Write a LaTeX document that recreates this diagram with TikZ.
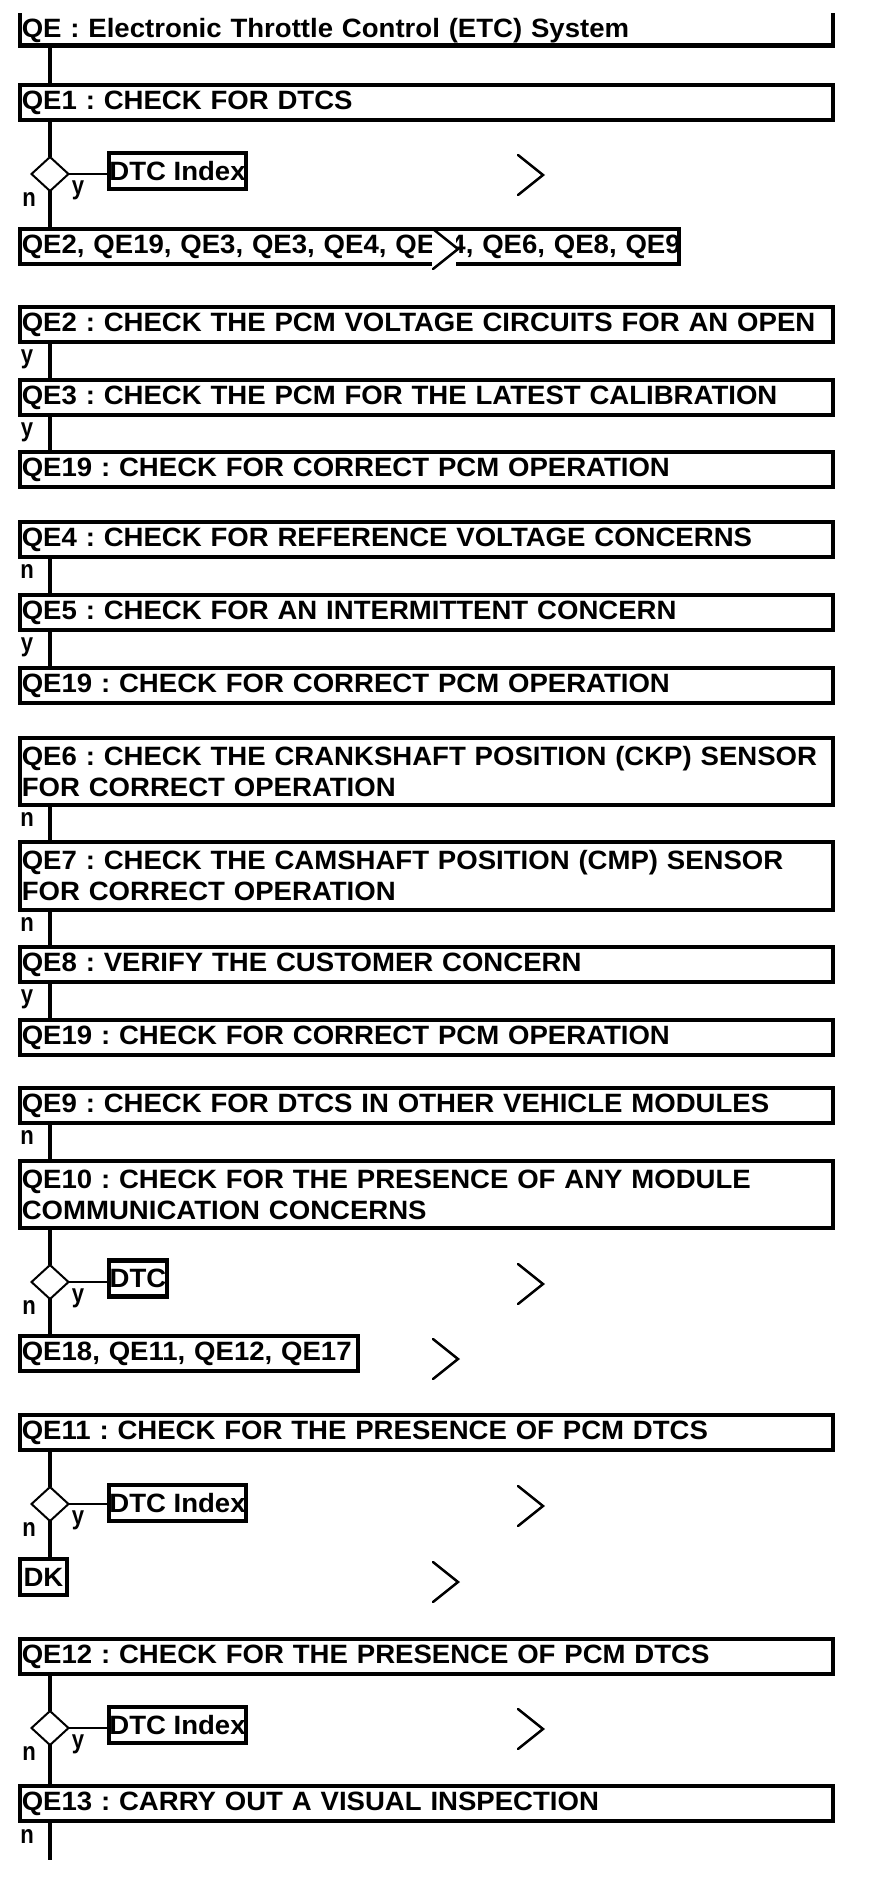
\documentclass[tikz,border=0pt]{standalone}
\usepackage{fontspec}
\setmainfont{Liberation Sans}[FakeStretch=1.04]
\newfontfamily\labfont{Liberation Sans}[FakeStretch=0.85]
\frenchspacing
\usetikzlibrary{shapes.geometric}
\begin{document}
\frenchspacing
\begin{tikzpicture}[x=1pt,y=-1pt,
  every node/.style={outer sep=0pt},
  bord/.style={line width=4.5pt},
  stepbox/.style={draw, bord, anchor=north west, inner xsep=1.8pt, inner ysep=0pt,
    minimum height=35pt, text width=#1, align=left,
    font=\bfseries\fontsize{26.5}{31}\selectfont},
  stepbox/.default=809.4pt,
  tag/.style={draw, bord, inner sep=0pt, minimum height=36pt,
    font=\bfseries\fontsize{26.5}{31}\selectfont},
  dia/.style={draw, diamond, line width=2pt, inner sep=0pt, minimum width=37pt, minimum height=34pt},
  trunk/.style={line width=4pt},
  link/.style={line width=2.5pt},
  lab/.style={font=\labfont\bfseries\fontsize{26}{26}\selectfont, inner sep=0pt, anchor=mid},
  chevline/.style={line width=2.5pt, line cap=round},
  pics/chevron/.style={code={\draw[chevline] (-25,-20) -- (0,0) -- (-25,20);}},
]
\useasboundingbox (0,0) rectangle (880,1882);
\coordinate (spine) at (50,0);

% ---- title
\node[stepbox, draw=none, minimum height=29.7pt] (title) at (20,16) {QE : Electronic Throttle Control (ETC) System};
\draw[bord] ([yshift=3pt]title.north west) -- (title.south west) -- (title.south east) -- ([yshift=3pt]title.north east);

% ---- QE1
\node[stepbox] (qe1) at (20,85) {QE1 : CHECK FOR DTCS};
\node[dia] (d1) at (50,174) {};
\node[tag, minimum width=137pt] (i1) at (177.5,171) {DTC Index};
\node[stepbox=655.4pt] (l1) at (20,229) {\mbox{QE2, QE19, QE3, QE3, QE4, QE14, QE6, QE8, QE9}};
\draw[trunk] (title.south -| spine) -- (qe1.north -| spine);
\draw[trunk] (qe1.south -| spine) -- (d1.north);
\draw[link] (d1.east) -- (d1.east -| i1.west);
\draw[trunk] (d1.south) -- (l1.north -| spine);
\node[lab] (y1) at ([shift={(28,18)}]d1.center) {y};
\node[lab] (n1) at ([shift={(-21,30)}]d1.center) {n};
\pic at (543,175) {chevron};
\fill[white] (432,231.5) rectangle (455.5,272);
\pic at (458,249) {chevron};

% ---- QE2 / QE3 / QE19
\node[stepbox] (qe2) at (20,307) {\mbox{QE2 : CHECK THE PCM VOLTAGE CIRCUITS FOR AN OPEN}};
\node[stepbox] (qe3) at (20,380) {\mbox{QE3 : CHECK THE PCM FOR THE LATEST CALIBRATION}};
\node[stepbox] (qe19a) at (20,452) {QE19 : CHECK FOR CORRECT PCM OPERATION};
\draw[trunk] (qe2.south -| spine) -- (qe3.north -| spine) node[midway, lab, xshift=-23pt] (y2) {y};
\draw[trunk] (qe3.south -| spine) -- (qe19a.north -| spine) node[midway, lab, xshift=-23pt] (y3) {y};

% ---- QE4 / QE5 / QE19
\node[stepbox] (qe4) at (20,522) {QE4 : CHECK FOR REFERENCE VOLTAGE CONCERNS};
\node[stepbox] (qe5) at (20,595) {QE5 : CHECK FOR AN INTERMITTENT CONCERN};
\node[stepbox] (qe19b) at (20,668) {QE19 : CHECK FOR CORRECT PCM OPERATION};
\draw[trunk] (qe4.south -| spine) -- (qe5.north -| spine) node[midway, lab, xshift=-23pt] (n4) {n};
\draw[trunk] (qe5.south -| spine) -- (qe19b.north -| spine) node[midway, lab, xshift=-23pt] (y5) {y};

% ---- QE6 / QE7 / QE8 / QE19
\node[stepbox, minimum height=67pt] (qe6) at (20,738) {\mbox{QE6 : CHECK THE CRANKSHAFT POSITION (CKP) SENSOR}\\\mbox{FOR CORRECT OPERATION}};
\node[stepbox, minimum height=68pt] (qe7) at (20,842) {\mbox{QE7 : CHECK THE CAMSHAFT POSITION (CMP) SENSOR}\\\mbox{FOR CORRECT OPERATION}};
\node[stepbox] (qe8) at (20,947) {QE8 : VERIFY THE CUSTOMER CONCERN};
\node[stepbox] (qe19c) at (20,1020) {QE19 : CHECK FOR CORRECT PCM OPERATION};
\draw[trunk] (qe6.south -| spine) -- (qe7.north -| spine) node[midway, lab, xshift=-23pt] (n6) {n};
\draw[trunk] (qe7.south -| spine) -- (qe8.north -| spine) node[midway, lab, xshift=-23pt] (n7) {n};
\draw[trunk] (qe8.south -| spine) -- (qe19c.north -| spine) node[midway, lab, xshift=-23pt] (y8) {y};

% ---- QE9 / QE10
\node[stepbox] (qe9) at (20,1088) {QE9 : CHECK FOR DTCS IN OTHER VEHICLE MODULES};
\node[stepbox, minimum height=67pt] (qe10) at (20,1161) {\mbox{QE10 : CHECK FOR THE PRESENCE OF ANY MODULE}\\\mbox{COMMUNICATION CONCERNS}};
\draw[trunk] (qe9.south -| spine) -- (qe10.north -| spine) node[midway, lab, xshift=-23pt] (n9) {n};
\node[dia] (d2) at (50,1282) {};
\node[tag, minimum width=58pt] (dtc2) at (138,1278.5) {DTC};
\node[stepbox=334.4pt] (l2) at (20,1336) {\mbox{QE18, QE11, QE12, QE17}};
\draw[trunk] (qe10.south -| spine) -- (d2.north);
\draw[link] (d2.east) -- (d2.east -| dtc2.west);
\draw[trunk] (d2.south) -- (l2.north -| spine);
\node[lab] (y10) at ([shift={(28,18)}]d2.center) {y};
\node[lab] (n10) at ([shift={(-21,30)}]d2.center) {n};
\pic at (543,1284) {chevron};
\pic at (458,1359) {chevron};

% ---- QE11
\node[stepbox] (qe11) at (20,1415) {QE11 : CHECK FOR THE PRESENCE OF PCM DTCS};
\node[dia] (d3) at (50,1504) {};
\node[tag, minimum width=137pt] (i3) at (177.5,1503) {DTC Index};
\node[tag, minimum width=47pt] (dk) at (43.5,1577) {DK};
\draw[trunk] (qe11.south -| spine) -- (d3.north);
\draw[link] (d3.east) -- (d3.east -| i3.west);
\draw[trunk] (d3.south) -- (dk.north -| spine);
\node[lab] (y11) at ([shift={(28,18)}]d3.center) {y};
\node[lab] (n11) at ([shift={(-21,30)}]d3.center) {n};
\pic at (543,1506) {chevron};
\pic at (458,1582) {chevron};

% ---- QE12 / QE13
\node[stepbox] (qe12) at (20,1639) {QE12 : CHECK FOR THE PRESENCE OF PCM DTCS};
\node[dia] (d4) at (50,1728) {};
\node[tag, minimum width=137pt] (i4) at (177.5,1725) {DTC Index};
\node[stepbox] (qe13) at (20,1786) {QE13 : CARRY OUT A VISUAL INSPECTION};
\coordinate (end) at (50,1860);
\draw[trunk] (qe12.south -| spine) -- (d4.north);
\draw[link] (d4.east) -- (d4.east -| i4.west);
\draw[trunk] (d4.south) -- (qe13.north -| spine);
\node[lab] (y12) at ([shift={(28,18)}]d4.center) {y};
\node[lab] (n12) at ([shift={(-21,30)}]d4.center) {n};
\pic at (543,1729) {chevron};
\draw[trunk] (qe13.south -| spine) -- (end) node[midway, lab, xshift=-23pt] (n13) {n};
\end{tikzpicture}
\end{document}
